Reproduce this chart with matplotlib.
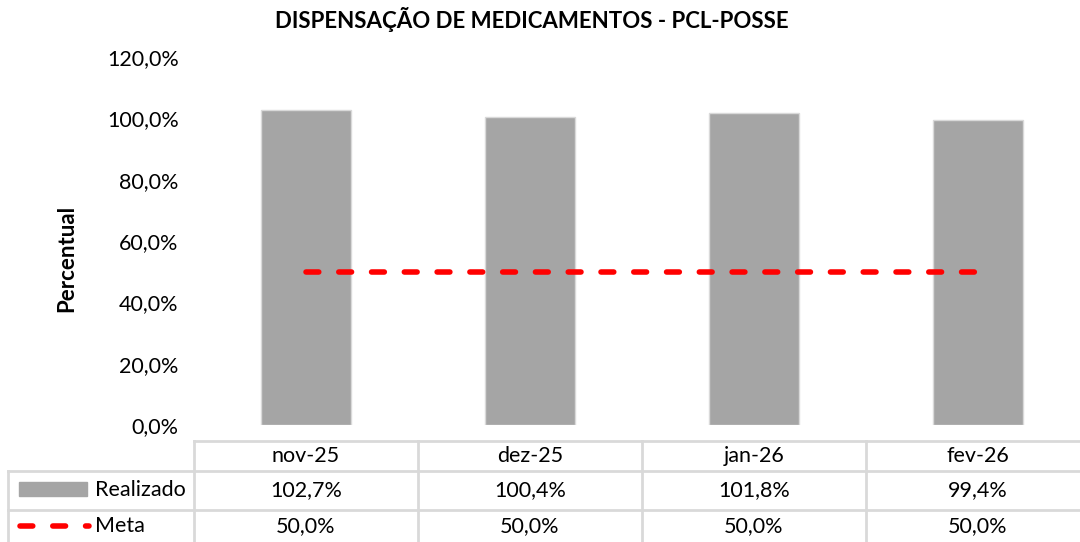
import matplotlib
matplotlib.use("Agg")
import matplotlib.pyplot as plt
from matplotlib.patches import Rectangle
from matplotlib.lines import Line2D

plt.rcParams['font.family'] = ['Lato', 'DejaVu Sans']

# data
meses = ["nov-25", "dez-25", "jan-26", "fev-26"]
realizado = [102.7, 100.4, 101.8, 99.4]
meta = [50.0, 50.0, 50.0, 50.0]
yticks = [0, 20, 40, 60, 80, 100, 120]

W, H = 1080, 542
BAR_C = "#A5A5A5"
GRID_C = "#D9D9D9"
FS = 15.5
DASH = (2.3, 3.6)

def pct(v):
  return f"{v:.1f}%".replace(".", ",")

fig = plt.figure(figsize=(W/100, H/100), dpi=100)

# plot area (pixel coords of reference)
x0, x1 = 194, 1090
y0, y1 = 425, 57
ax = fig.add_axes([x0/W, 1-y0/H, (x1-x0)/W, (y0-y1)/H])
xs = list(range(len(meses)))
ax.bar(xs, realizado, width=0.4, color=BAR_C, edgecolor=GRID_C, linewidth=1, zorder=2)
ax.plot(xs, meta, color="red", linewidth=4, dashes=DASH, dash_capstyle="round", zorder=3)
ax.set_xlim(-0.5, len(meses)-0.5)
ax.set_ylim(0, 120)
ax.set_yticks(yticks)
ax.set_yticklabels([pct(v) for v in yticks], fontsize=FS)
ax.tick_params(axis="y", length=0, pad=11)
ax.set_xticks([])
for sp in ax.spines.values():
  sp.set_visible(False)
ax.patch.set_alpha(0)

fig.text(532/W, 1-20/H, "DISPENSAÇÃO DE MEDICAMENTOS - PCL-POSSE",
         ha="center", va="center", fontsize=16, fontweight="bold")
fig.text(67/W, 1-258/H, "Percentual", rotation=90, ha="center", va="center",
         fontsize=16, fontweight="bold")

# data table drawn in pixel space
ov = fig.add_axes([0, 0, 1, 1])
ov.set_xlim(0, W); ov.set_ylim(H, 0)
ov.axis("off")
ov.patch.set_alpha(0)

col_w = (x1 - x0) / len(meses)
r_top, r1, r2, r_bot = 441, 471, 510, 560
lw = 2
ov.plot([x0, x1], [r_top, r_top], color=GRID_C, lw=lw)
ov.plot([8, x1], [r1, r1], color=GRID_C, lw=lw)
ov.plot([8, x1], [r2, r2], color=GRID_C, lw=lw)
ov.plot([8, 8], [r1, r_bot], color=GRID_C, lw=lw)
for i in range(len(meses) + 1):
  xx = x0 + i*col_w
  ov.plot([xx, xx], [r_top, r_bot], color=GRID_C, lw=lw)

for i, m in enumerate(meses):
  cx = x0 + (i + 0.5)*col_w
  ov.text(cx, (r_top + r1)/2, m, ha="center", va="center", fontsize=FS)
  ov.text(cx, (r1 + r2)/2, pct(realizado[i]), ha="center", va="center", fontsize=FS)
  ov.text(cx, 526, pct(meta[i]), ha="center", va="center", fontsize=FS)

# legend keys
ov.add_patch(Rectangle((19, 482), 68, 14, color=BAR_C))
ov.text(95, (r1 + r2)/2, "Realizado", ha="left", va="center", fontsize=FS)
ov.add_line(Line2D([20, 89], [526, 526], color="red", lw=4, dashes=DASH,
                   dash_capstyle="round"))
ov.text(95, 526, "Meta", ha="left", va="center", fontsize=FS)

fig.savefig("out.png", dpi=100)
